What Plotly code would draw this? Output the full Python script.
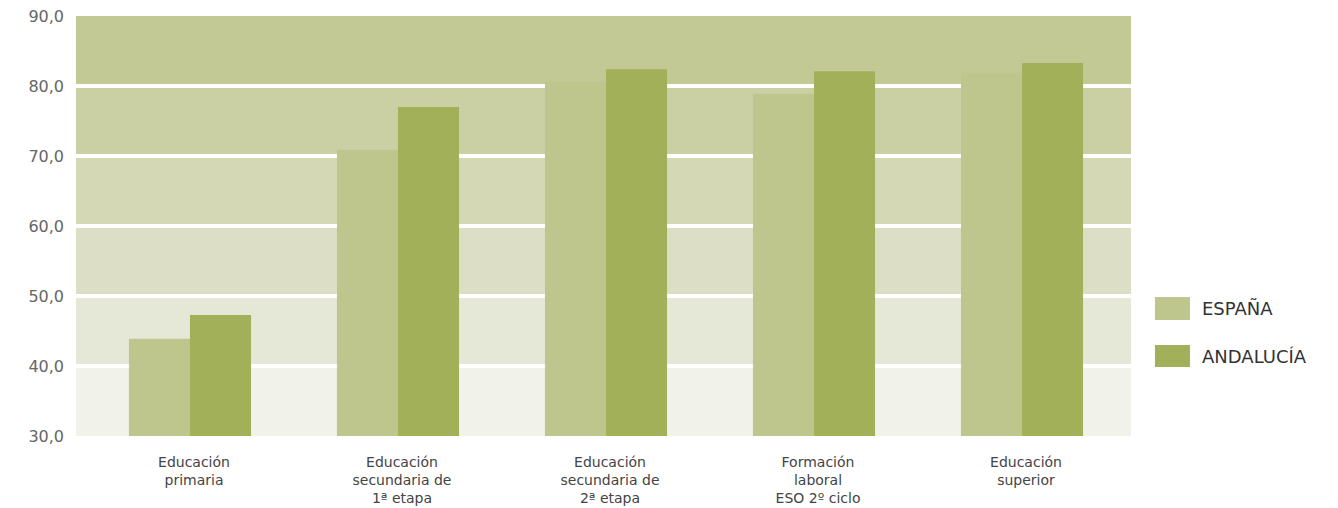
import plotly.graph_objects as go

categories = ["Educación<br>primaria", "Educación<br>secundaria de<br>1ª etapa",
              "Educación<br>secundaria de<br>2ª etapa", "Formación<br>laboral<br>ESO 2º ciclo",
              "Educación<br>superior"]
espana = [43.9, 70.9, 80.6, 78.9, 81.9]
andalucia = [47.3, 77.0, 82.4, 82.1, 83.3]
y_ticks = [30, 40, 50, 60, 70, 80, 90]
band_colors = ["#f1f2ea", "#e5e8d6", "#dcdfc5", "#d4d8b4", "#cbd0a4", "#c3c994"]

ESP_COLOR = "#bec68e"
AND_COLOR = "#a3b05a"
FONT = "DejaVu Sans"

fig = go.Figure()
fig.add_trace(go.Bar(x=categories, y=espana, name="ESPAÑA", marker_color=ESP_COLOR,
                     marker_line_width=0))
fig.add_trace(go.Bar(x=categories, y=andalucia, name="ANDALUCÍA", marker_color=AND_COLOR,
                     marker_line_width=0))

shapes = []
for i, c in enumerate(band_colors):
    shapes.append(dict(type="rect", xref="paper", yref="y", x0=0, x1=1,
                       y0=y_ticks[i], y1=y_ticks[i + 1], fillcolor=c, line_width=0,
                       layer="below"))
for v in y_ticks[1:-1]:
    shapes.append(dict(type="line", xref="paper", yref="y", x0=0, x1=1, y0=v, y1=v,
                       line=dict(color="white", width=4), layer="between"))

# manual legend
legend_items = [("ESPAÑA", ESP_COLOR, 0.331, 0.276), ("ANDALUCÍA", AND_COLOR, 0.2167, 0.164)]
annotations = []
for name, col, y1, y0 in legend_items:
    shapes.append(dict(type="rect", xref="paper", yref="paper", x0=1.0227, x1=1.0559,
                       y0=y0, y1=y1, fillcolor=col, line_width=0))
    annotations.append(dict(xref="paper", yref="paper", x=1.0654, y=(y0 + y1) / 2,
                            text=name, showarrow=False, xanchor="left", yanchor="middle",
                            font=dict(size=18, color="#333333", family=FONT)))

fig.update_layout(
    width=1338, height=508,
    margin=dict(l=68, r=215, t=8, b=80),
    paper_bgcolor="white", plot_bgcolor="white",
    barmode="group", bargap=0.413, bargroupgap=0,
    showlegend=False,
    separators=",.",
    shapes=shapes, annotations=annotations,
    font=dict(family=FONT, color="#555555"),
    xaxis=dict(range=[-0.548, 4.524], showgrid=False, zeroline=False, showline=False,
               ticks="", tickfont=dict(size=14, color="#444444", family=FONT),
               ticklabelstandoff=16, ticklabelshift=4, automargin=False,
               ticklabeloverflow="allow"),
    yaxis=dict(range=[30, 90], tickvals=y_ticks, tickformat=".1f", showgrid=False,
               zeroline=False, showline=False, ticks="", ticklabelstandoff=11,
               tickfont=dict(size=16, color="#666666", family=FONT), automargin=False,
               ticklabeloverflow="allow"),
)

fig.write_html("out.html")
